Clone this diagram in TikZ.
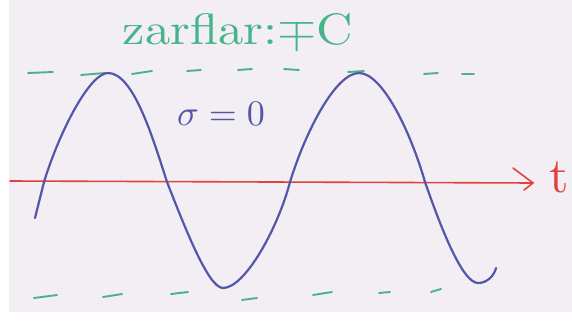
\documentclass[tikz,border=0pt]{standalone}
\usepackage{graphicx}
\usepackage{xcolor}
\definecolor{paper}{RGB}{242,238,243}
\definecolor{pen}{RGB}{84,86,172}
\definecolor{redpen}{RGB}{226,66,62}
\definecolor{greenpen}{RGB}{70,180,138}
\begin{document}
\begin{tikzpicture}[x=1pt,y=-1pt,
  wave/.style={pen, line width=2.2pt, line cap=round, line join=round},
  axisline/.style={redpen, line width=1.6pt, line cap=round, line join=round},
  gdash/.style={greenpen, line width=1.9pt, line cap=round},
]
\useasboundingbox (0,0) rectangle (572,321);
\fill[white] (0,0) rectangle (572,321);
\fill[paper] (9,0) rectangle (572,312);

% title
\node[anchor=base, text=greenpen, inner sep=0pt] (title) at (238,45) {\scalebox{5.05}[4.4]{zarflar:$\mp$C}};

% dashed bounds (top)
\foreach \a/\b/\c/\d in {28/73/53/72, 81/75/105/73, 132/74/152/71, 187/71/201/70, 238/70/252/69, 284/69/299/70, 348/72/364/71, 424/74/438/73, 462/74/474/74}
  \draw[gdash] (\a,\b) -- (\c,\d);
% dashed bounds (bottom)
\foreach \a/\b/\c/\d in {34/298/57/295, 103/297/122/294, 171/294/188/292, 242/300/257/298, 313/295/332/292, 379/293/390/292, 431/292/441/289}
  \draw[gdash] (\a,\b) -- (\c,\d);

% time axis
\coordinate (a0) at (10,181);
\coordinate (a1) at (533,183);
\coordinate (ah1) at (513,168);
\coordinate (ah2) at (524,190);
\draw[axisline] (a0) -- (a1);
\draw[axisline] (ah1) -- (a1) -- (ah2);
\node[anchor=base west, text=redpen, inner sep=0pt] (tlabel) at (549,192) {\scalebox{5}{t}};

% wave
\draw[wave] (35,218) -- (44,182)
  .. controls (60,130) and (90,73) .. (108,73)
  .. controls (133,73) and (152,135) .. (167,182)
  .. controls (184,225) and (208,288) .. (223,288)
  .. controls (245,288) and (278,228) .. (290,182)
  .. controls (306,130) and (336,73) .. (359,73)
  .. controls (382,73) and (410,130) .. (425,182)
  .. controls (440,225) and (462,283) .. (478,283)
  .. controls (487,283) and (494,276) .. (496,268);

% sigma label
\node[anchor=base, text=pen, inner sep=0pt] (sig) at (221,125) {\scalebox{3.6}{$\sigma=0$}};
\end{tikzpicture}
\end{document}
